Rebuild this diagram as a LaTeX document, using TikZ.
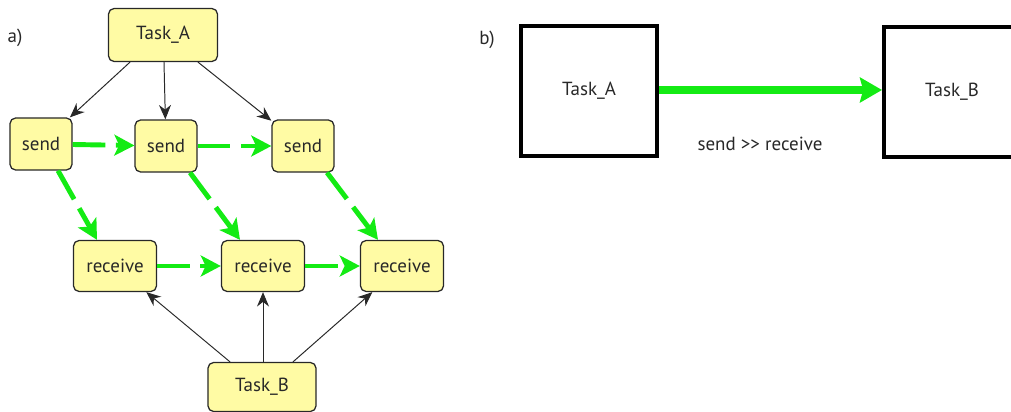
\documentclass[tikz,border=0pt]{standalone}
\usepackage{fontspec}
\setmainfont{PT Sans}
\usetikzlibrary{arrows.meta,calc}

\definecolor{boxyellow}{RGB}{255,251,164}
\definecolor{flowgreen}{RGB}{20,235,20}
\definecolor{textgray}{RGB}{40,40,40}

\tikzset{
	task/.style={draw=textgray, rounded corners=4pt, fill=boxyellow, line width=0.9pt, text=textgray, inner sep=0pt},
	bigbox/.style={draw, line width=2.8pt, minimum width=3.4cm, minimum height=3.25cm, text=textgray},
	ctrl/.style={->, >={Stealth[length=0.36cm, width=0.3cm]}, line width=0.7pt, draw=textgray},
	flow/.style={->, >={Stealth[length=0.5cm, width=0.52cm, inset=0.12cm]}, draw=flowgreen, line width=3.5pt, dash pattern=on 0.82cm off 0.26cm},
	bigflow/.style={->, >={Stealth[length=0.55cm, width=0.62cm, inset=0.08cm]}, draw=flowgreen, line width=6.2pt}
}

\begin{document}
\begin{tikzpicture}[x=0.025cm, y=-0.025cm, font=\fontsize{13.5}{16}\selectfont]
		\begingroup
		\useasboundingbox (0,0) rectangle (1011,412);
		
		% a)
		\node[text=textgray] (la) at (15, 38) {a)};
		
		\node[task, minimum width=2.725cm, minimum height=1.325cm] (ta) at (163, 35) {Task\_A};
		\node[task, minimum width=1.55cm, minimum height=1.3cm] (s1) at (41, 144) {send};
		\node[task, minimum width=1.55cm, minimum height=1.3cm] (s2) at (166, 146) {send};
		\node[task, minimum width=1.55cm, minimum height=1.3cm] (s3) at (303, 146) {send};
		\node[task, minimum width=2.075cm, minimum height=1.275cm] (r1) at (115, 266) {receive};
		\node[task, minimum width=2.075cm, minimum height=1.275cm] (r2) at (263, 266) {receive};
		\node[task, minimum width=2.075cm, minimum height=1.275cm] (r3) at (402, 266) {receive};
		\node[task, minimum width=2.7cm, minimum height=1.225cm] (tb) at (262, 387) {Task\_B};
		
		\draw[ctrl] ($(ta.south)+(-33,0)$) -- (s1);
		\draw[ctrl] ($(ta.south)+(1,0)$) -- (s2);
		\draw[ctrl] ($(ta.south)+(35,0)$) -- (s3);
		\draw[ctrl] ($(tb.north)+(-32,0)$) -- (r1);
		\draw[ctrl] ($(tb.north)+(1,0)$) -- (r2);
		\draw[ctrl] ($(tb.north)+(31,0)$) -- (r3);
		
		\draw[flow] (s1) -- (s2);
		\draw[flow] (s2) -- (s3);
		\draw[flow] (r1) -- (r2);
		\draw[flow] (r2) -- (r3);
		\draw[flow] ($(s1.south)+(17,0)$) -- ($(r1.north)+(-18,0)$);
		\draw[flow] ($(s2.south)+(24,0)$) -- ($(r2.north)+(-23,0)$);
		\draw[flow] ($(s3.south)+(24,0)$) -- ($(r3.north)+(-24,0)$);
		
		% b)
		\node[text=textgray] (lb) at (487, 40) {b)};
		
		\node[bigbox] (ba) at (589, 91) {Task\_A};
		\node[bigbox] (bb) at (952, 92) {Task\_B};
		
		\draw[bigflow] (ba.east |- 0,90) -- (bb.west |- 0,90);
		\node[text=textgray] (lbl) at (760, 144) {send >{}> receive};
		\endgroup
\end{tikzpicture}
\end{document}
